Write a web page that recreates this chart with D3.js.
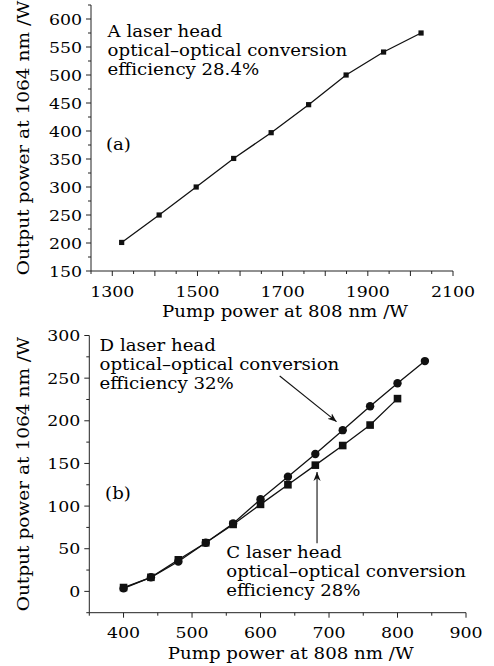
<!DOCTYPE html>
<html>
<head>
<meta charset="utf-8">
<script src="https://cdn.jsdelivr.net/npm/d3@7"></script>
<style>
  body { margin: 0; background: #fff; }
  svg { display: block; }
  text { font-family: "DejaVu Serif", "Liberation Serif", serif; fill: #000; }
</style>
</head>
<body>
<svg id="chart" width="494" height="666"></svg>
<script>
// panel (a): A laser head
const pumpA = [1322, 1410, 1497, 1585, 1673, 1761, 1849, 1937, 2025];
const outA = [201, 250, 300, 351, 397, 447, 500, 541, 575];

// panel (b): C and D laser heads
const pumpB = [400, 440, 480, 520, 560, 600, 640, 680, 720, 760, 800, 840];
const outD = [3.5, 16.5, 35, 57, 79.5, 108, 134.5, 161, 189, 217, 244, 270];
const outC = [4.5, 16.5, 37, 57, 78.5, 102, 125, 148, 171, 195, 226];

const xTicksA = [1300, 1500, 1700, 1900, 2100];
const yTicksA = [150, 200, 250, 300, 350, 400, 450, 500, 550, 600];
const xTicksB = [400, 500, 600, 700, 800, 900];
const yTicksB = [0, 50, 100, 150, 200, 250, 300];

const xLabel = 'Pump power at 808 nm /W';
const yLabel = 'Output power at 1064 nm /W';

const svg = d3.select('#chart');

svg.append('defs').append('marker')
  .attr('id', 'head')
  .attr('viewBox', '0 0 10 10')
  .attr('refX', 10).attr('refY', 5)
  .attr('markerWidth', 9).attr('markerHeight', 9)
  .attr('markerUnits', 'userSpaceOnUse')
  .attr('orient', 'auto')
  .append('path')
  .attr('d', 'M0,1 L10,5 L0,9 L3,5 Z')
  .attr('fill', '#111');

// text that is a bit wider than the font draws it (the scan is stretched)
function wideText(g, x, y, str, size, sx, anchor, rot) {
  return g.append('text')
    .attr('transform', 'translate(' + x + ',' + y + ')' + (rot ? ' rotate(' + rot + ')' : '') + ' scale(' + sx + ',1)')
    .attr('text-anchor', anchor || 'start')
    .style('font-size', size + 'px')
    .text(str);
}

function drawAxes(g, x, y, xStep, yStep, xTicks, yTicks, titleDy) {
  const [x0, x1] = x.domain();
  const [y0, y1] = y.domain();
  const xt = d3.range(x0, x1 + 0.1, xStep);
  const yt = d3.range(y0, y1 + 0.1, yStep);
  const bx = x.range()[0], by = y.range()[0];

  g.append('line')
    .attr('x1', bx).attr('x2', x.range()[1])
    .attr('y1', by).attr('y2', by)
    .attr('stroke', '#222');
  g.append('line')
    .attr('x1', bx).attr('x2', bx)
    .attr('y1', by).attr('y2', y.range()[1])
    .attr('stroke', '#222');

  g.selectAll('.xt').data(xt).enter().append('line')
    .attr('x1', d => x(d)).attr('x2', d => x(d))
    .attr('y1', by)
    .attr('y2', d => by + (d % (xStep * 2) === 0 ? 5 : 3))
    .attr('stroke', '#222');
  g.selectAll('.yt').data(yt).enter().append('line')
    .attr('y1', d => y(d)).attr('y2', d => y(d))
    .attr('x1', bx)
    .attr('x2', d => bx - (d % (yStep * 2) === 0 ? 5 : 3))
    .attr('stroke', '#222');

  xTicks.forEach(d => wideText(g, x(d), by + 25.5, d, 15.5, 1.12, 'middle'));
  yTicks.forEach(d => wideText(g, bx - 9, y(d) + 5.5, d, 15.5, 1.12, 'end'));

  const xm = (x.range()[0] + x.range()[1]) / 2 + 13;
  wideText(g, xm, by + titleDy, xLabel, 17, 1.07, 'middle');
  const ym = (y.range()[0] + y.range()[1]) / 2;
  wideText(g, 29, ym, yLabel, 17.5, 1.06, 'middle', -90);
}

function label(g, px, py, lines) {
  lines.forEach((s, i) => wideText(g, px, py + i * 19.1, s, 16.5, 1.1, 'start'));
}

// ---- panel (a)
const xA = d3.scaleLinear().domain([1250, 2100]).range([91, 453]);
const yA = d3.scaleLinear().domain([150, 625]).range([271, 5]);
const gA = svg.append('g');
drawAxes(gA, xA, yA, 50, 25, xTicksA, yTicksA, 45.5);

const lineA = d3.line().x((d, i) => xA(pumpA[i])).y(d => yA(d));
gA.append('path').datum(outA)
  .attr('d', lineA).attr('fill', 'none').attr('stroke', '#111').attr('stroke-width', 1.3);
gA.selectAll('.pa').data(outA).enter().append('rect')
  .attr('x', (d, i) => xA(pumpA[i]) - 2.6).attr('y', d => yA(d) - 2.6)
  .attr('width', 5.2).attr('height', 5.2).attr('fill', '#111');

label(gA, xA(1289), yA(568), ['A laser head', 'optical\u2013optical conversion', 'efficiency 28.4%']);
label(gA, xA(1285), yA(366), ['(a)']);

// ---- panel (b)
const xB = d3.scaleLinear().domain([350, 900]).range([89.3, 466]);
const yB = d3.scaleLinear().domain([-25, 300]).range([612.7, 335.5]);
const gB = svg.append('g');
drawAxes(gB, xB, yB, 50, 25, xTicksB, yTicksB, 46.5);

const lineD = d3.line().x((d, i) => xB(pumpB[i])).y(d => yB(d));
gB.append('path').datum(outD)
  .attr('d', lineD).attr('fill', 'none').attr('stroke', '#111').attr('stroke-width', 1.3);
gB.append('path').datum(outC)
  .attr('d', lineD).attr('fill', 'none').attr('stroke', '#111').attr('stroke-width', 1.3);
gB.selectAll('.pd').data(outD).enter().append('circle')
  .attr('cx', (d, i) => xB(pumpB[i])).attr('cy', d => yB(d))
  .attr('r', 4.2).attr('fill', '#111');
gB.selectAll('.pc').data(outC).enter().append('rect')
  .attr('x', (d, i) => xB(pumpB[i]) - 3.8).attr('y', d => yB(d) - 3.8)
  .attr('width', 7.6).attr('height', 7.6).attr('fill', '#111');

label(gB, xB(365), yB(282), ['D laser head', 'optical\u2013optical conversion', 'efficiency 32%']);
label(gB, xB(373), yB(108), ['(b)']);
label(gB, xB(550), yB(39), ['C laser head', 'optical\u2013optical conversion', 'efficiency 28%']);

gB.append('line')
  .attr('x1', xB(628)).attr('y1', yB(252.5))
  .attr('x2', xB(711)).attr('y2', yB(199))
  .attr('stroke', '#111').attr('stroke-width', 1.1)
  .attr('marker-end', 'url(#head)');
gB.append('line')
  .attr('x1', xB(682.5)).attr('y1', yB(56.5))
  .attr('x2', xB(682.5)).attr('y2', yB(140))
  .attr('stroke', '#111').attr('stroke-width', 1.1)
  .attr('marker-end', 'url(#head)');
</script>
</body>
</html>
